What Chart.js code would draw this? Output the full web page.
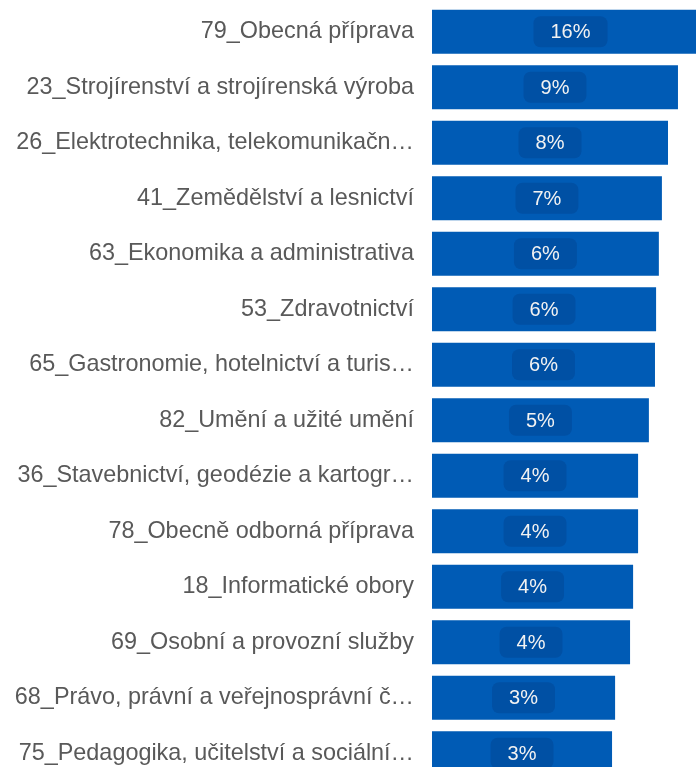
<!DOCTYPE html>
<html>
<head>
<meta charset="utf-8">
<script src="https://cdn.jsdelivr.net/npm/chart.js@4/dist/chart.umd.min.js"></script>
<style>
  html, body { margin: 0; padding: 0; background: #fff; overflow: hidden; }
  #wrap { position: absolute; left: 0; top: 0; width: 720px; height: 782px; }
</style>
</head>
<body>
<div id="wrap"><canvas id="chart" width="720" height="782"></canvas></div>
<script>
const BAR_COLOR = "rgb(0, 91, 181)";
const PILL_COLOR = "rgb(0, 80, 164)";
const LABEL_COLOR = "#595959";

const OBORY = [
  "79_Obecná příprava",
  "23_Strojírenství a strojírenská výroba",
  "26_Elektrotechnika, telekomunikačn…",
  "41_Zemědělství a lesnictví",
  "63_Ekonomika a administrativa",
  "53_Zdravotnictví",
  "65_Gastronomie, hotelnictví a turis…",
  "82_Umění a užité umění",
  "36_Stavebnictví, geodézie a kartogr…",
  "78_Obecně odborná příprava",
  "18_Informatické obory",
  "69_Osobní a provozní služby",
  "68_Právo, právní a veřejnosprávní č…",
  "75_Pedagogika, učitelství a sociální…",
];

// bar length (relative, longest bar = 100)
const DELKY = [100, 88.8, 85.2, 83.0, 81.9, 80.9, 80.5, 78.3, 74.4, 74.4, 72.6, 71.5, 66.1, 65.0];

// text shown inside the bars
const PODILY = ["16%", "9%", "8%", "7%", "6%", "6%", "6%", "5%", "4%", "4%", "4%", "4%", "3%", "3%"];

const pillPlugin = {
  id: "pills",
  afterDatasetsDraw(chart) {
    const ctx = chart.ctx;
    const meta = chart.getDatasetMeta(0);
    ctx.save();
    ctx.font = "20px 'Liberation Sans', Arial, sans-serif";
    ctx.textAlign = "center";
    ctx.textBaseline = "middle";
    meta.data.forEach((bar, i) => {
      const txt = PODILY[i];
      const cx = (bar.x + bar.base) / 2;
      const w = ctx.measureText(txt).width + 34;
      const h = 31;
      ctx.fillStyle = PILL_COLOR;
      ctx.beginPath();
      ctx.roundRect(cx - w / 2, bar.y - h / 2, w, h, 7);
      ctx.fill();
      ctx.fillStyle = "#f2f2f2";
      ctx.fillText(txt, cx, bar.y + 1);
    });
    ctx.restore();
  }
};

new Chart(document.getElementById("chart"), {
  type: "bar",
  data: {
    labels: OBORY,
    datasets: [{
      data: DELKY,
      backgroundColor: BAR_COLOR,
      borderWidth: 0,
      categoryPercentage: 1,
      barPercentage: 0.79,
    }]
  },
  options: {
    indexAxis: "y",
    responsive: false,
    animation: false,
    layout: { padding: { top: 4, right: 11, bottom: 1, left: 0 } },
    plugins: { legend: { display: false }, tooltip: { enabled: false } },
    scales: {
      x: { display: false, min: 0, max: 100 },
      y: {
        afterFit(scale) {
          scale.width = 432;
          scale.paddingTop = 0;
          scale.paddingBottom = 0;
        },
        grid: { display: false, drawTicks: false },
        border: { display: false },
        ticks: {
          color: LABEL_COLOR,
          padding: 18,
          autoSkip: false,
          font: { family: "'Liberation Sans', Arial, sans-serif", size: 23.4 },
        }
      }
    }
  },
  plugins: [pillPlugin]
});
</script>
</body>
</html>
